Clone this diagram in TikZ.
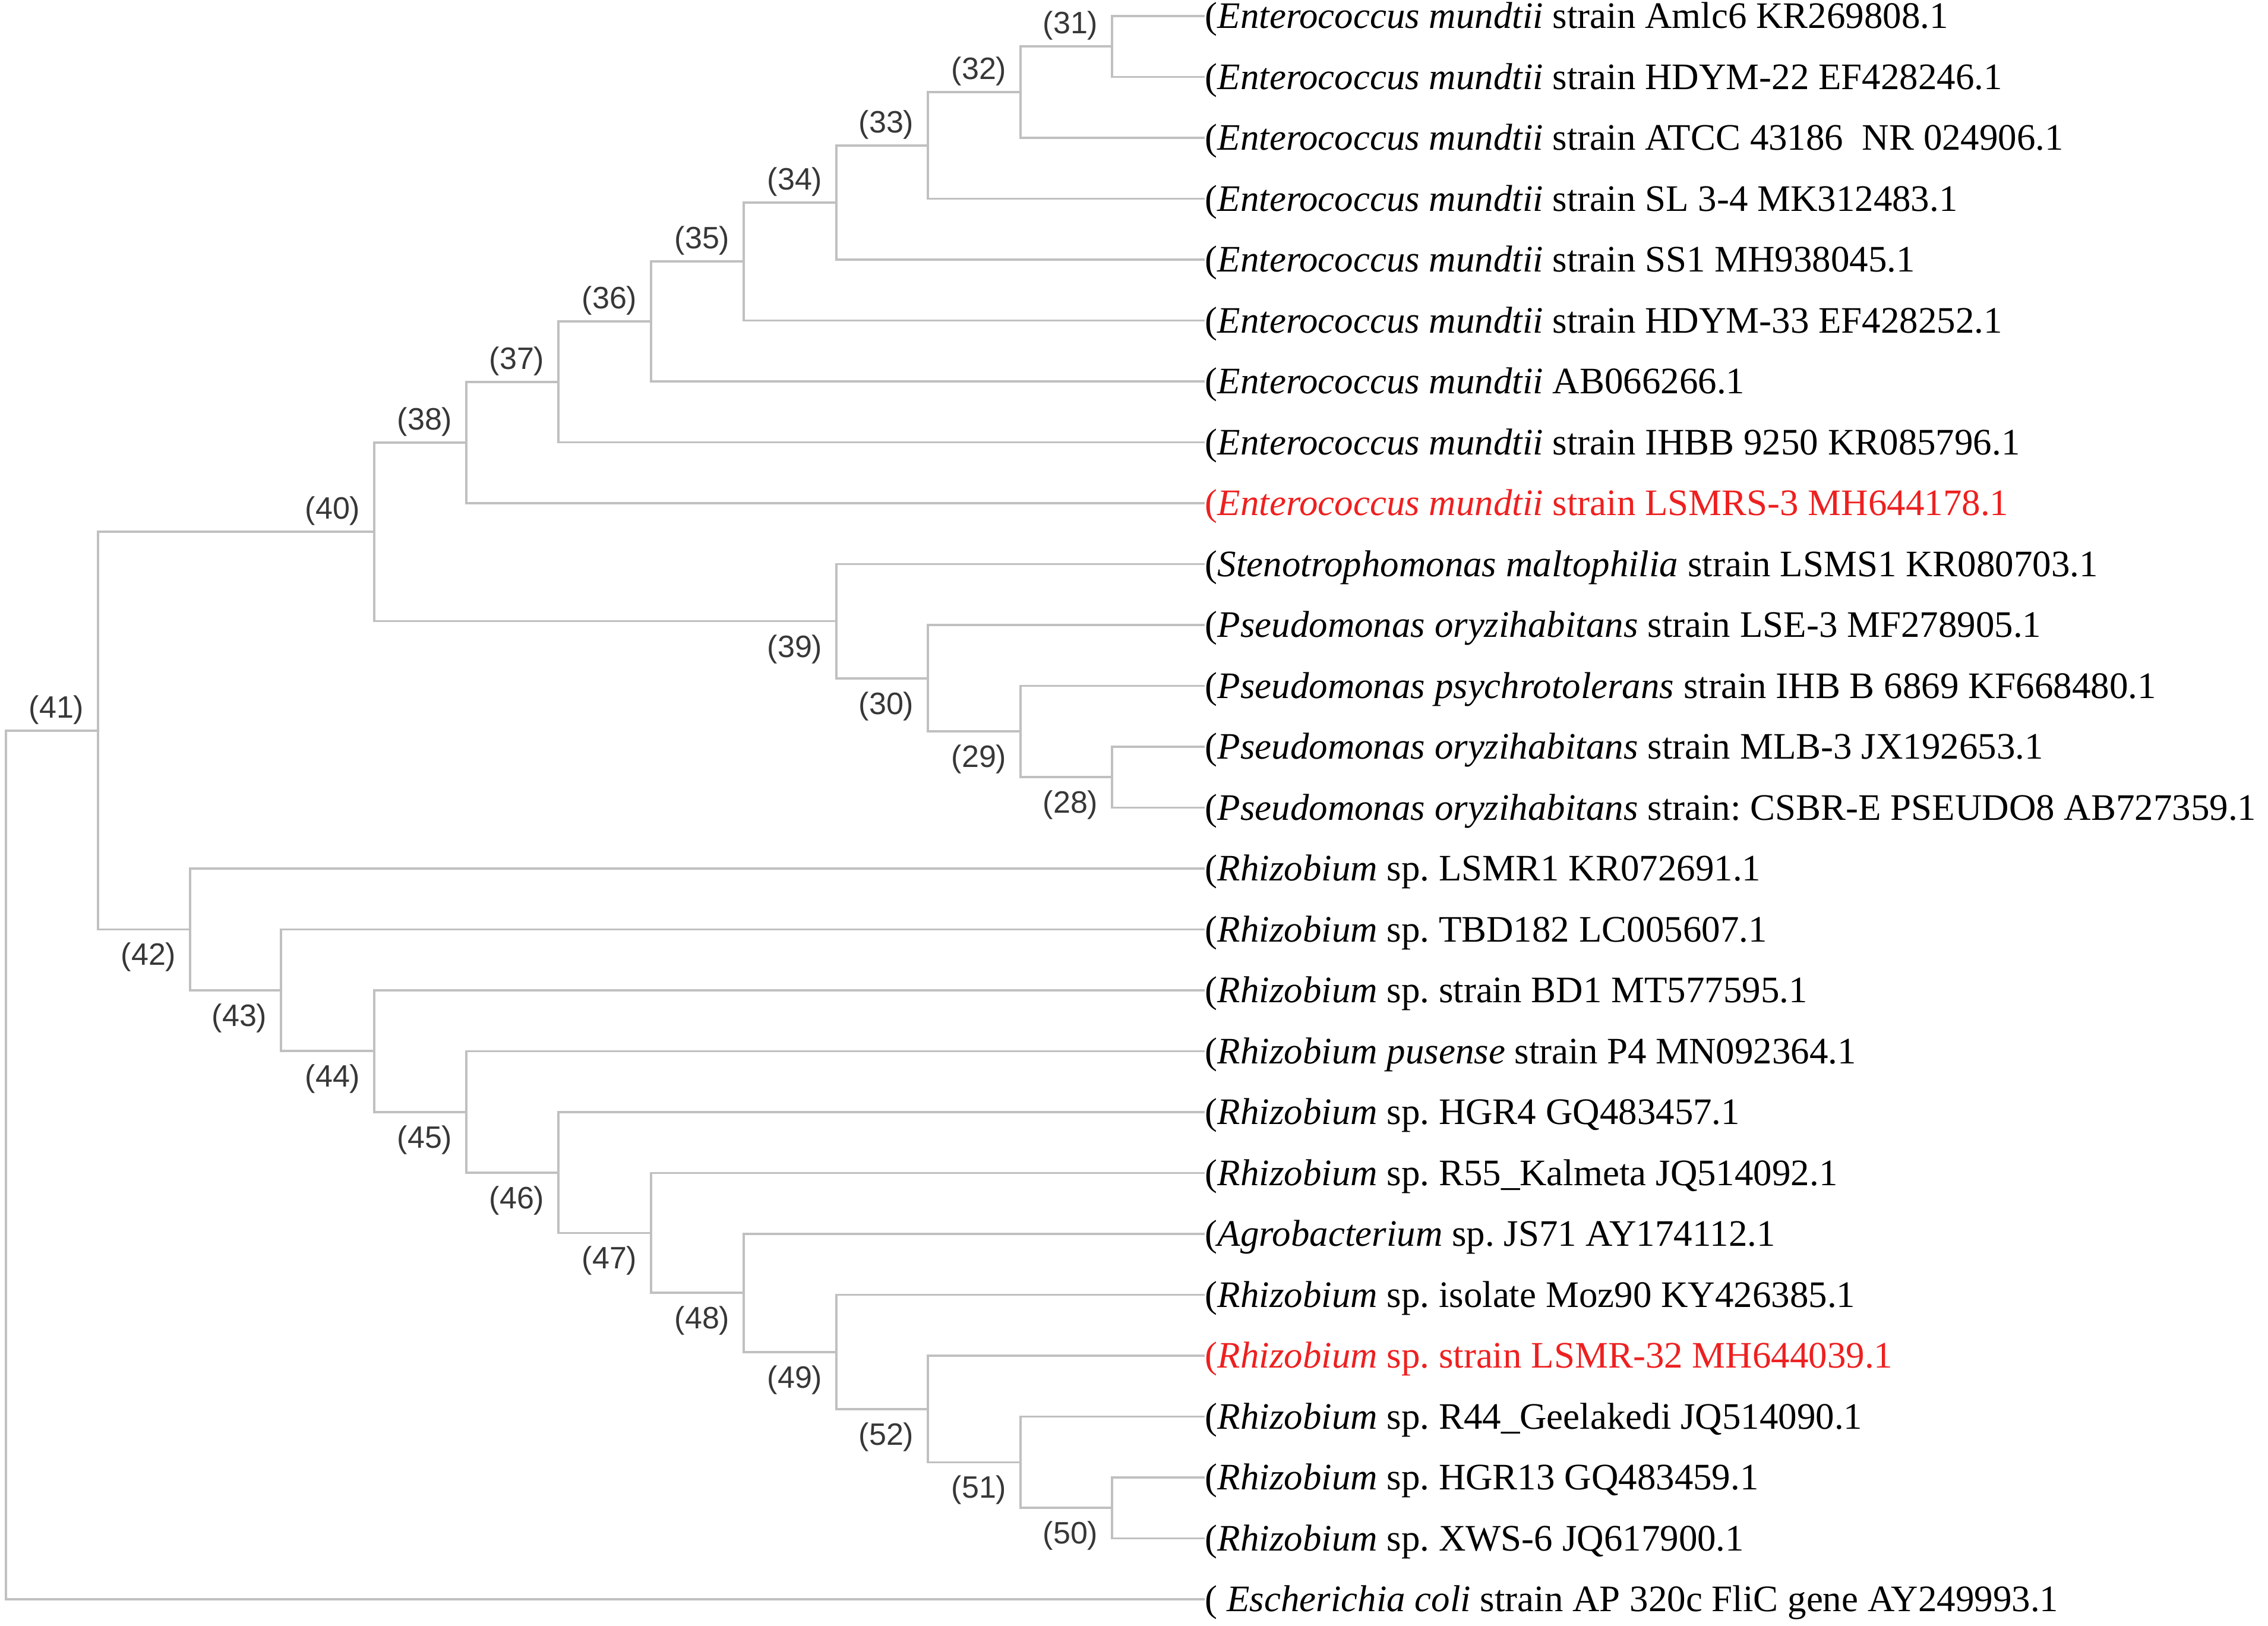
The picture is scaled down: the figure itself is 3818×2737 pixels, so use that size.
\documentclass[tikz,border=0pt]{standalone}
\usepackage{fontspec}
\setmainfont{Liberation Serif}
\newfontfamily\labfont{Liberation Sans}
\definecolor{branch}{RGB}{192,192,192}
\definecolor{labgray}{RGB}{55,55,55}
\definecolor{hired}{RGB}{238,32,32}
\frenchspacing
\begin{document}
\begin{tikzpicture}[x=0.01cm,y=-0.01cm,
  br/.style={draw=branch, line width=0.038cm},
  leaf/.style={anchor=west, inner sep=0pt, text height=0.417cm, text depth=0pt,
    font=\fontsize{17.9pt}{20pt}\selectfont, text=black},
  redleaf/.style={leaf, text=hired},
  labu/.style={anchor=south east, inner sep=0pt, font=\labfont\fontsize{14.8pt}{16pt}\selectfont, text=labgray},
  labd/.style={anchor=north east, inner sep=0pt, font=\labfont\fontsize{14.8pt}{16pt}\selectfont, text=labgray}]
\fill[white] (0,0) rectangle (3818,2737);
\useasboundingbox (0,0) rectangle (3818,2737);

% leaves
\node[leaf] (l1) at (2028,27) {(\textit{Enterococcus mundtii} strain Amlc6 KR269808.1};
\node[leaf] (l2) at (2028,129.5) {(\textit{Enterococcus mundtii} strain HDYM-22 EF428246.1};
\node[leaf] (l3) at (2028,232) {(\textit{Enterococcus mundtii} strain ATCC 43186~~NR 024906.1};
\node[leaf] (l4) at (2028,334.5) {(\textit{Enterococcus mundtii} strain SL 3-4 MK312483.1};
\node[leaf] (l5) at (2028,437) {(\textit{Enterococcus mundtii} strain SS1 MH938045.1};
\node[leaf] (l6) at (2028,539.5) {(\textit{Enterococcus mundtii} strain HDYM-33 EF428252.1};
\node[leaf] (l7) at (2028,642) {(\textit{Enterococcus mundtii} AB066266.1};
\node[leaf] (l8) at (2028,744.5) {(\textit{Enterococcus mundtii} strain IHBB 9250 KR085796.1};
\node[redleaf] (l9) at (2028,847) {(\textit{Enterococcus mundtii} strain LSMRS-3 MH644178.1};
\node[leaf] (l10) at (2028,949.5) {(\textit{Stenotrophomonas maltophilia} strain LSMS1 KR080703.1};
\node[leaf] (l11) at (2028,1052) {(\textit{Pseudomonas oryzihabitans} strain LSE-3 MF278905.1};
\node[leaf] (l12) at (2028,1154.5) {(\textit{Pseudomonas psychrotolerans} strain IHB B 6869 KF668480.1};
\node[leaf] (l13) at (2028,1257) {(\textit{Pseudomonas oryzihabitans} strain MLB-3 JX192653.1};
\node[leaf] (l14) at (2028,1359.5) {(\textit{Pseudomonas oryzihabitans} strain: CSBR-E PSEUDO8 AB727359.1};
\node[leaf] (l15) at (2028,1462) {(\textit{Rhizobium} sp. LSMR1 KR072691.1};
\node[leaf] (l16) at (2028,1564.5) {(\textit{Rhizobium} sp. TBD182 LC005607.1};
\node[leaf] (l17) at (2028,1667) {(\textit{Rhizobium} sp. strain BD1 MT577595.1};
\node[leaf] (l18) at (2028,1769.5) {(\textit{Rhizobium pusense} strain P4 MN092364.1};
\node[leaf] (l19) at (2028,1872) {(\textit{Rhizobium} sp. HGR4 GQ483457.1};
\node[leaf] (l20) at (2028,1974.5) {(\textit{Rhizobium} sp. R55\_Kalmeta JQ514092.1};
\node[leaf] (l21) at (2028,2077) {(\textit{Agrobacterium} sp. JS71 AY174112.1};
\node[leaf] (l22) at (2028,2179.5) {(\textit{Rhizobium} sp. isolate Moz90 KY426385.1};
\node[redleaf] (l23) at (2028,2282) {(\textit{Rhizobium} sp. strain LSMR-32 MH644039.1};
\node[leaf] (l24) at (2028,2384.5) {(\textit{Rhizobium} sp. R44\_Geelakedi JQ514090.1};
\node[leaf] (l25) at (2028,2487) {(\textit{Rhizobium} sp. HGR13 GQ483459.1};
\node[leaf] (l26) at (2028,2589.5) {(\textit{Rhizobium} sp. XWS-6 JQ617900.1};
\node[leaf] (l27) at (2028,2692) {( \textit{Escherichia coli} strain AP 320c FliC gene AY249993.1};

% internal nodes
\coordinate (root) at (10,1960.9);
\coordinate (n41) at (165,1229.85);
\coordinate (n40) at (630,895.25);
\coordinate (n38) at (785,744.90);
\coordinate (n37) at (940,642.80);
\coordinate (n36) at (1096,541.10);
\coordinate (n35) at (1252,440.20);
\coordinate (n34) at (1408,340.91);
\coordinate (n33) at (1562,244.81);
\coordinate (n32) at (1718,155.125);
\coordinate (n31) at (1872,78.25);
\coordinate (n39) at (1408,1045.59);
\coordinate (n30) at (1562,1141.69);
\coordinate (n29) at (1718,1231.38);
\coordinate (n28) at (1872,1308.25);
\coordinate (n42) at (320,1564.45);
\coordinate (n43) at (473,1666.90);
\coordinate (n44) at (630,1769.30);
\coordinate (n45) at (785,1871.60);
\coordinate (n46) at (940,1973.70);
\coordinate (n47) at (1096,2075.40);
\coordinate (n48) at (1252,2176.30);
\coordinate (n49) at (1408,2275.59);
\coordinate (n52) at (1562,2371.69);
\coordinate (n51) at (1718,2461.38);
\coordinate (n50) at (1872,2538.25);

% branches
\draw[br] (n41) -| (root) |- (l27.west);
\draw[br] (n40) -| (n41) |- (n42);
\draw[br] (n38) -| (n40) |- (n39);
\draw[br] (n37) -| (n38) |- (l9.west);
\draw[br] (n36) -| (n37) |- (l8.west);
\draw[br] (n35) -| (n36) |- (l7.west);
\draw[br] (n34) -| (n35) |- (l6.west);
\draw[br] (n33) -| (n34) |- (l5.west);
\draw[br] (n32) -| (n33) |- (l4.west);
\draw[br] (n31) -| (n32) |- (l3.west);
\draw[br] (l1.west) -| (n31) |- (l2.west);
\draw[br] (l10.west) -| (n39) |- (n30);
\draw[br] (l11.west) -| (n30) |- (n29);
\draw[br] (l12.west) -| (n29) |- (n28);
\draw[br] (l13.west) -| (n28) |- (l14.west);
\draw[br] (l15.west) -| (n42) |- (n43);
\draw[br] (l16.west) -| (n43) |- (n44);
\draw[br] (l17.west) -| (n44) |- (n45);
\draw[br] (l18.west) -| (n45) |- (n46);
\draw[br] (l19.west) -| (n46) |- (n47);
\draw[br] (l20.west) -| (n47) |- (n48);
\draw[br] (l21.west) -| (n48) |- (n49);
\draw[br] (l22.west) -| (n49) |- (n52);
\draw[br] (l23.west) -| (n52) |- (n51);
\draw[br] (l24.west) -| (n51) |- (n50);
\draw[br] (l25.west) -| (n50) |- (l26.west);

% branch labels
\path (n41) ++(-23,-10) node[labu] {(41)};
\path (n40) ++(-23,-10) node[labu] {(40)};
\path (n38) ++(-23,-10) node[labu] {(38)};
\path (n37) ++(-23,-10) node[labu] {(37)};
\path (n36) ++(-23,-10) node[labu] {(36)};
\path (n35) ++(-23,-10) node[labu] {(35)};
\path (n34) ++(-23,-10) node[labu] {(34)};
\path (n33) ++(-23,-10) node[labu] {(33)};
\path (n32) ++(-23,-10) node[labu] {(32)};
\path (n31) ++(-23,-10) node[labu] {(31)};
\path (n39) ++(-23,22) node[labd] {(39)};
\path (n30) ++(-23,22) node[labd] {(30)};
\path (n29) ++(-23,22) node[labd] {(29)};
\path (n28) ++(-23,22) node[labd] {(28)};
\path (n42) ++(-23,22) node[labd] {(42)};
\path (n43) ++(-23,22) node[labd] {(43)};
\path (n44) ++(-23,22) node[labd] {(44)};
\path (n45) ++(-23,22) node[labd] {(45)};
\path (n46) ++(-23,22) node[labd] {(46)};
\path (n47) ++(-23,22) node[labd] {(47)};
\path (n48) ++(-23,22) node[labd] {(48)};
\path (n49) ++(-23,22) node[labd] {(49)};
\path (n52) ++(-23,22) node[labd] {(52)};
\path (n51) ++(-23,22) node[labd] {(51)};
\path (n50) ++(-23,22) node[labd] {(50)};
\end{tikzpicture}
\end{document}
